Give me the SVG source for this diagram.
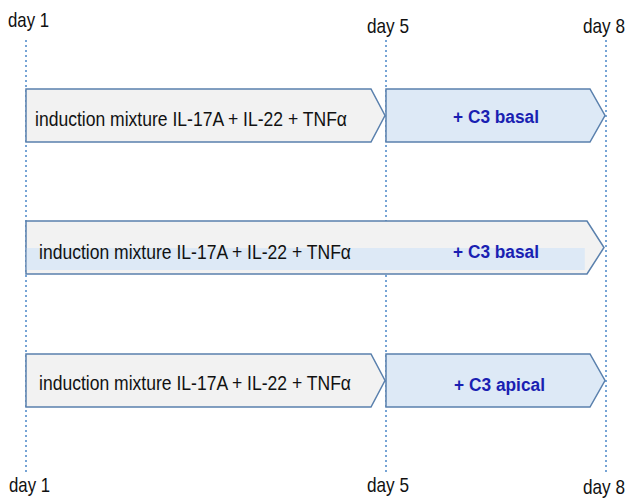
<svg xmlns="http://www.w3.org/2000/svg" width="630" height="498" viewBox="0 0 630 498">
  <style>
    .day { font-family: "Liberation Sans", Arial, sans-serif; font-size: 20px; fill: #111; }
    .mix { font-family: "Liberation Sans", Arial, sans-serif; font-size: 21px; fill: #111; }
    .c3 { font-family: "Liberation Sans", Arial, sans-serif; font-size: 18px; font-weight: bold; fill: #1a1fb2; }
    .grey { fill: #f2f2f2; stroke: #5a80ad; stroke-width: 1.5; }
    .blue { fill: #dde9f6; stroke: #5a80ad; stroke-width: 1.5; }
    .guide { stroke: #4a86c8; stroke-width: 1.5; stroke-dasharray: 2 3; fill: none; }
  </style>

  <rect width="630" height="498" fill="#ffffff"/>

  <!-- timeline guides -->
  <g id="connectors">
    <line class="guide" x1="26" y1="40" x2="26" y2="472"/>
    <line class="guide" x1="386" y1="40" x2="386" y2="472"/>
    <line class="guide" x1="606" y1="40" x2="606" y2="472"/>
  </g>

  <!-- day labels (horizontally condensed) -->
  <g id="labels-top">
    <text class="day" transform="translate(8,27) scale(0.84,1)">day 1</text>
    <text class="day" transform="translate(367,33) scale(0.86,1)">day 5</text>
    <text class="day" transform="translate(583,33) scale(0.86,1)">day 8</text>
  </g>
  <g id="labels-bottom">
    <text class="day" transform="translate(9,492) scale(0.84,1)">day 1</text>
    <text class="day" transform="translate(367,492) scale(0.86,1)">day 5</text>
    <text class="day" transform="translate(583,494) scale(0.86,1)">day 8</text>
  </g>

  <!-- row 1 -->
  <g id="row1-induction">
    <path class="grey" d="M26,89 H371 L385,115.5 L371,142 H26 Z"/>
    <text class="mix" x="35" y="126" textLength="312" lengthAdjust="spacingAndGlyphs">induction mixture IL-17A + IL-22 + TNFα</text>
  </g>
  <g id="row1-c3">
    <path class="blue" d="M386,89 H590 L605,115.5 L590,142 H386 Z"/>
    <text class="c3" x="496" y="123" text-anchor="middle" textLength="86" lengthAdjust="spacingAndGlyphs">+ C3 basal</text>
  </g>

  <!-- row 2 -->
  <g id="row2-combined">
    <path class="grey" d="M26,221 H587 L604,247.5 L587,274 H26 Z"/>
    <rect x="26.8" y="248" width="558" height="22" fill="#dde9f6"/>
    <text class="mix" x="39" y="259" textLength="312" lengthAdjust="spacingAndGlyphs">induction mixture IL-17A + IL-22 + TNFα</text>
    <text class="c3" x="496" y="258" text-anchor="middle" textLength="86" lengthAdjust="spacingAndGlyphs">+ C3 basal</text>
  </g>

  <!-- row 3 -->
  <g id="row3-induction">
    <path class="grey" d="M26,354 H371 L385,380.5 L371,407 H26 Z"/>
    <text class="mix" x="39" y="390" textLength="312" lengthAdjust="spacingAndGlyphs">induction mixture IL-17A + IL-22 + TNFα</text>
  </g>
  <g id="row3-c3">
    <path class="blue" d="M386,354 H590 L605,380.5 L590,407 H386 Z"/>
    <text class="c3" x="499.5" y="391" text-anchor="middle" textLength="91" lengthAdjust="spacingAndGlyphs">+ C3 apical</text>
  </g>
</svg>
